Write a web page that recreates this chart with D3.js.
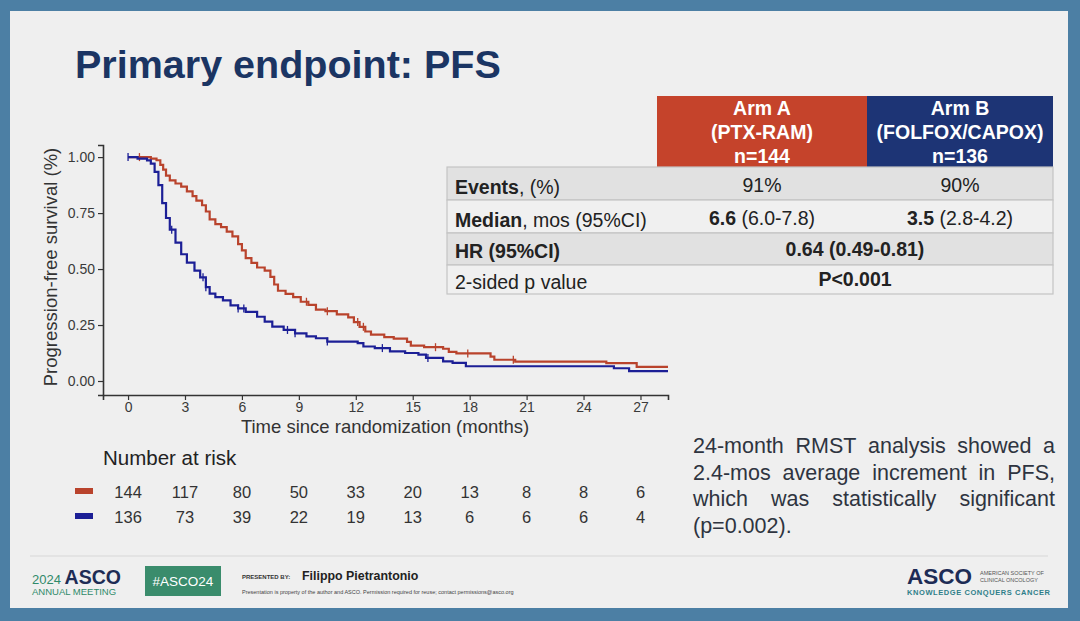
<!DOCTYPE html>
<html><head><meta charset="utf-8">
<script src="https://cdn.jsdelivr.net/npm/d3@7"></script>
<style>
html,body{margin:0;padding:0;background:#4d80a5;}
svg{display:block;font-family:"Liberation Sans",Arial,sans-serif;}
</style></head>
<body>
<svg id="c" width="1080" height="621"></svg>
<script>
// ---------- DATA ----------
const armATimes = [0,1.2,1.5,1.7,1.85,2.0,2.2,2.5,2.8,3.1,3.4,3.6,3.9,4.1,4.3,4.6,4.9,5.2,5.5,5.8,6.0,6.2,6.5,6.8,7.2,7.5,7.7,7.9,8.3,8.7,9.1,9.5,9.9,10.4,11.0,11.6,11.9,12.2,12.5,12.8,13.5,14.0,14.7,14.9,15.6,16.6,16.9,17.3,19.1,19.3,20.4,25.2,26.8];
const armASurv  = [1.0,0.993,0.986,0.965,0.944,0.917,0.896,0.882,0.868,0.847,0.826,0.806,0.785,0.757,0.722,0.701,0.687,0.667,0.646,0.611,0.583,0.549,0.528,0.507,0.493,0.465,0.431,0.403,0.389,0.375,0.354,0.340,0.319,0.312,0.298,0.284,0.263,0.242,0.221,0.207,0.196,0.189,0.175,0.158,0.151,0.144,0.130,0.123,0.109,0.095,0.087,0.080,0.063];
const armACensor = [0.6,9.4,10.5,12.1,12.4,16.2,17.9,20.3];

const armBTimes = [0,0.5,1.0,1.2,1.4,1.6,1.8,2.0,2.2,2.5,2.8,3.1,3.5,3.8,4.1,4.3,4.6,5.0,5.4,5.8,6.2,6.8,7.2,7.6,8.2,8.8,9.4,9.9,10.5,12.1,12.4,13.0,13.8,14.6,15.3,15.7,16.6,17.1,17.8,25.6,26.4];
const armBSurv  = [1.0,0.993,0.985,0.971,0.934,0.875,0.794,0.728,0.676,0.618,0.566,0.529,0.493,0.463,0.419,0.390,0.375,0.360,0.338,0.324,0.309,0.287,0.265,0.243,0.228,0.213,0.199,0.191,0.176,0.169,0.154,0.147,0.132,0.125,0.118,0.103,0.088,0.081,0.066,0.057,0.044];
const armBCensor = [0,2.3,3.95,4.1,5.8,6.1,8.4,8.8,10.5,13.4,15.8];

const tMax = 28.45;
const xTicks = [0,3,6,9,12,15,18,21,24,27];
const yTicks = [0,0.25,0.5,0.75,1.0];
const riskA = [144,117,80,50,33,20,13,8,8,6];
const riskB = [136,73,39,22,19,13,6,6,6,4];

const colA = "#b9432c", colB = "#1c1f96";
const hdrA = "#c5432b", hdrB = "#1d3475";

const headerA = ["Arm A","(PTX-RAM)","n=144"];
const headerB = ["Arm B","(FOLFOX/CAPOX)","n=136"];
const rmstLines = ["24-month RMST analysis showed a","2.4-mos average increment in PFS,","which was statistically significant","(p=0.002)."];

// ---------- DRAW ----------
const svg = d3.select("#c");
svg.append("rect").attr("x",0).attr("y",0).attr("width",1080).attr("height",621).attr("fill","#4c7fa4");
svg.append("rect").attr("x",10).attr("y",11).attr("width",1058).attr("height",597).attr("fill","#efefef");

svg.append("text").attr("x",75).attr("y",78).attr("font-size",39.5).attr("font-weight","bold")
  .attr("fill","#1b3563").text("Primary endpoint: PFS");

const x = d3.scaleLinear().domain([-1.32, tMax]).range([103, 668]);
const y = d3.scaleLinear().domain([-0.0625, 1.054]).range([395, 145]);

const gx = svg.append("g").attr("transform","translate(0,395)")
  .call(d3.axisBottom(x).tickValues(xTicks).tickSizeOuter(0).tickSize(5).tickPadding(2));
const gy = svg.append("g").attr("transform","translate(103,0)")
  .call(d3.axisLeft(y).tickValues(yTicks).tickFormat(d3.format(".2f")).tickSizeOuter(0).tickSize(5).tickPadding(3));
[gx,gy].forEach(g=>{
  g.select(".domain").attr("stroke","#333").attr("stroke-width",1.6);
  g.selectAll(".tick line").attr("stroke","#333").attr("stroke-width",1.2);
  g.selectAll(".tick text").attr("fill","#3a3a3a").attr("font-size",14).attr("font-family","Liberation Sans, Arial, sans-serif");
});

svg.append("text").attr("transform","translate(57,267) rotate(-90)").attr("text-anchor","middle")
  .attr("font-size",18.5).attr("fill","#333").text("Progression-free survival (%)");
svg.append("text").attr("x",385).attr("y",433).attr("text-anchor","middle")
  .attr("font-size",18.5).attr("fill","#333").text("Time since randomization (months)");

function curve(times, surv, censor, col){
  const pts = times.map((t,i)=>[t,surv[i]]);
  pts.push([tMax, surv[surv.length-1]]);
  const line = d3.line().x(d=>x(d[0])).y(d=>y(d[1])).curve(d3.curveStepAfter);
  svg.append("path").datum(pts).attr("d",line).attr("fill","none")
    .attr("stroke",col).attr("stroke-width",2.2);
  const sAt = t => { let s=1; times.forEach((tt,i)=>{ if(tt<=t) s=surv[i]; }); return s; };
  censor.forEach(c=>{
    const cx=x(c), cy=y(sAt(c));
    svg.append("line").attr("x1",cx).attr("x2",cx).attr("y1",cy-4).attr("y2",cy+4)
      .attr("stroke",col).attr("stroke-width",1.3);
  });
}
curve(armATimes, armASurv, armACensor, colA);
curve(armBTimes, armBSurv, armBCensor, colB);

// number at risk
svg.append("text").attr("x",103).attr("y",465).attr("font-size",20.5).attr("fill","#222").text("Number at risk");
[[riskA,colA,492],[riskB,colB,517]].forEach(([r,c,yy])=>{
  svg.append("rect").attr("x",75).attr("y",yy-4).attr("width",18).attr("height",6).attr("fill",c);
  r.forEach((v,i)=>{
    svg.append("text").attr("x",x(xTicks[i])).attr("y",yy+6).attr("text-anchor","middle")
      .attr("font-size",16.5).attr("fill","#333").text(v);
  });
});

// table header
[[657,867,hdrA,headerA,762],[867,1053,hdrB,headerB,960]].forEach(([x0,x1,c,lines,cx])=>{
  svg.append("rect").attr("x",x0).attr("y",96).attr("width",x1-x0).attr("height",71).attr("fill",c);
  lines.forEach((l,i)=>svg.append("text").attr("x",cx).attr("y",115+i*24).attr("text-anchor","middle")
    .attr("font-size",19.5).attr("font-weight","bold").attr("fill","#fff").text(l));
});
const rows = [[167,200,"#e1e1e1"],[200,233,"#f0f0f0"],[233,265,"#e1e1e1"],[265,294,"#f0f0f0"]];
rows.forEach(([y0,y1,f])=>svg.append("rect").attr("x",447).attr("y",y0).attr("width",606).attr("height",y1-y0)
  .attr("fill",f).attr("stroke","#c4c4c4").attr("stroke-width",1.2));
function rich(xx,yy,parts,anchor){
  const t=svg.append("text").attr("x",xx).attr("y",yy).attr("font-size",19.5).attr("fill","#222").attr("text-anchor",anchor||"start");
  parts.forEach(p=>t.append("tspan").attr("font-weight",p[1]?"bold":"normal").text(p[0]));
}
rich(455,194,[["Events",1],[", (%)",0]]);
rich(455,227,[["Median",1],[", mos (95%CI)",0]]);
rich(455,258,[["HR (95%CI)",1]]);
rich(455,289,[["2-sided p value",0]]);
rich(762,192,[["91%",0]],"middle");
rich(960,192,[["90%",0]],"middle");
rich(762,225,[["6.6",1],[" (6.0-7.8)",0]],"middle");
rich(960,225,[["3.5",1],[" (2.8-4.2)",0]],"middle");
rich(855,256,[["0.64 (0.49-0.81)",1]],"middle");
rich(855,286,[["P<0.001",1]],"middle");

// RMST text, justified by word spacing
rmstLines.forEach((l,i)=>{
  const yy = 453+i*26.5, x0=693, w=362;
  const words = l.split(" ");
  if(i===rmstLines.length-1){
    svg.append("text").attr("x",x0).attr("y",yy).attr("font-size",21.5).attr("fill","#2e3440").text(l);
    return;
  }
  const nodes = words.map(wd=>svg.append("text").attr("y",yy).attr("font-size",21.5).attr("fill","#2e3440").text(wd));
  const widths = nodes.map(n=>n.node().getComputedTextLength());
  const gap = (w - d3.sum(widths))/(words.length-1);
  let cx=x0;
  nodes.forEach((n,k)=>{ n.attr("x",cx); cx+=widths[k]+gap; });
});

// footer
svg.append("line").attr("x1",30).attr("x2",1048).attr("y1",556).attr("y2",556).attr("stroke","#d8d8d8").attr("stroke-width",1.2);
const ft = svg.append("text").attr("x",32).attr("y",584).attr("font-size",13).attr("fill","#2f8a6a");
ft.append("tspan").text("2024 ");
ft.append("tspan").attr("font-size",19.5).attr("font-weight","bold").attr("fill","#1d2c55").text("ASCO");
svg.append("text").attr("x",32).attr("y",595).attr("font-size",9.5).attr("fill","#2f8a6a").text("ANNUAL MEETING");
svg.append("rect").attr("x",145).attr("y",566).attr("width",76).attr("height",30).attr("fill","#3a8c6c");
svg.append("text").attr("x",183).attr("y",586).attr("text-anchor","middle").attr("font-size",13.5).attr("fill","#fff").text("#ASCO24");
svg.append("text").attr("x",242).attr("y",579).attr("font-size",6).attr("font-weight","bold").attr("fill","#333").text("PRESENTED BY:");
svg.append("text").attr("x",302).attr("y",580).attr("font-size",12.4).attr("font-weight","bold").attr("fill","#222").text("Filippo Pietrantonio");
svg.append("text").attr("x",242).attr("y",594).attr("font-size",5.5).attr("fill","#444")
  .text("Presentation is property of the author and ASCO. Permission required for reuse; contact permissions@asco.org");
svg.append("text").attr("x",907).attr("y",584).attr("font-size",22.5).attr("font-weight","bold").attr("fill","#1d2c55").text("ASCO");
svg.append("text").attr("x",980).attr("y",575).attr("font-size",5.5).attr("fill","#555").text("AMERICAN SOCIETY OF");
svg.append("text").attr("x",980).attr("y",582).attr("font-size",5.5).attr("fill","#555").text("CLINICAL ONCOLOGY");
svg.append("text").attr("x",907).attr("y",595).attr("font-size",7.5).attr("font-weight","bold").attr("fill","#2f7f8a").attr("textLength",143).text("KNOWLEDGE CONQUERS CANCER");
</script>
</body></html>
